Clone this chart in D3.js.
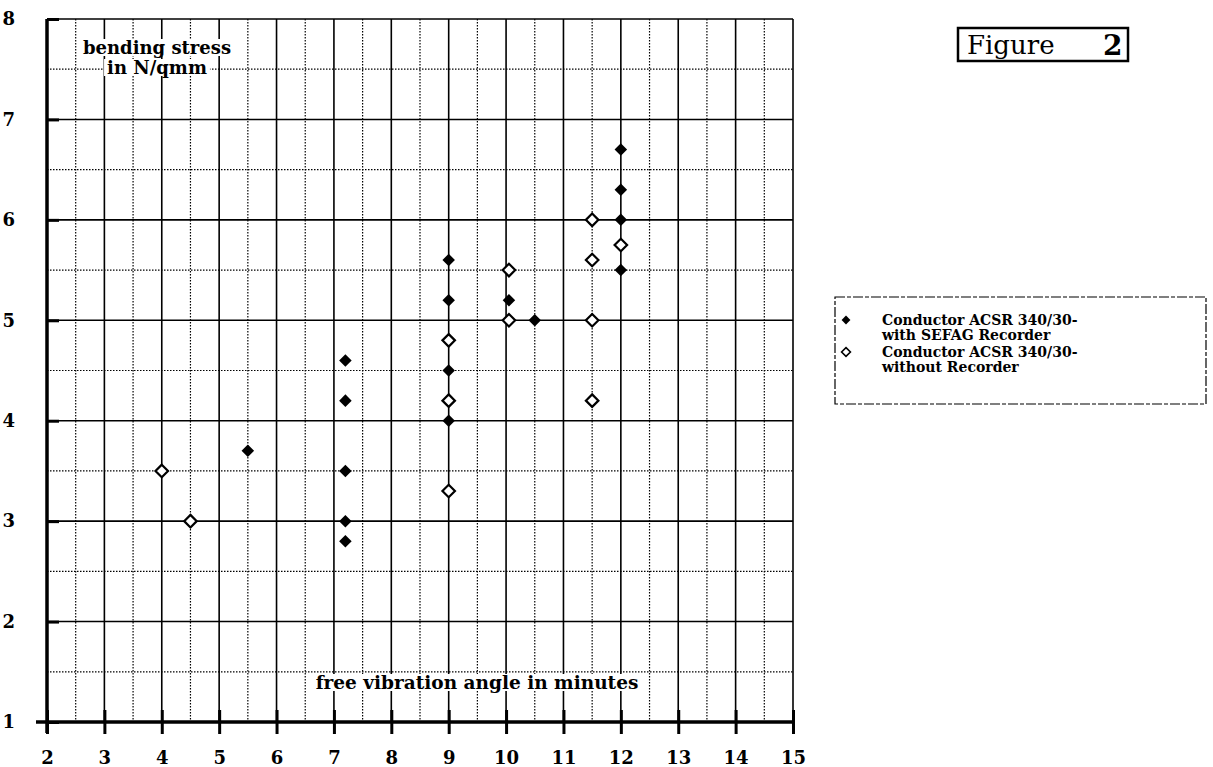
<!DOCTYPE html>
<html>
<head>
<meta charset="utf-8">
<script src="https://cdn.jsdelivr.net/npm/d3@7"></script>
<style>
  body { margin: 0; background: #fff; }
  text { font-family: "DejaVu Serif", serif; font-weight: bold; fill: #000; }
</style>
</head>
<body>
<svg id="canvas" width="1213" height="767"></svg>
<script>
"use strict";

// === Data ===
let xTicks = [2, 3, 4, 5, 6, 7, 8, 9, 10, 11, 12, 13, 14, 15];
let yTicks = [1, 2, 3, 4, 5, 6, 7, 8];

// with SEFAG recorder (filled diamonds)
let withRecX = [5.5, 7.2, 7.2, 7.2, 7.2, 7.2, 9, 9, 9, 9, 10.05, 10.5, 12, 12, 12, 12];
let withRecY = [3.7, 4.6, 4.2, 3.5, 3.0, 2.8, 5.6, 5.2, 4.5, 4.0, 5.2, 5.0, 6.7, 6.3, 6.0, 5.5];

// without recorder (open diamonds)
let noRecX = [4, 4.5, 9, 9, 9, 10.05, 10.05, 11.5, 11.5, 11.5, 11.5, 12];
let noRecY = [3.5, 3.0, 4.8, 4.2, 3.3, 5.5, 5.0, 6.0, 5.6, 5.0, 4.2, 5.75];

let legendLabels = [
  ["Conductor ACSR 340/30-", "with SEFAG Recorder"],
  ["Conductor ACSR 340/30-", "without Recorder"]
];

// === Scales ===
let x = d3.scaleLinear().domain([2, 15]).range([47, 793]);
let y = d3.scaleLinear().domain([1, 8]).range([722, 19]);

let svg = d3.select("#canvas");

// === Grid ===
let halfX = d3.range(2.5, 15, 1);
let halfY = d3.range(1.5, 8, 1);
let grid = svg.append("g");

grid.selectAll(".hx").data(halfX).enter().append("line")
  .attr("x1", d => x(d)).attr("x2", d => x(d))
  .attr("y1", y(8)).attr("y2", y(1))
  .attr("stroke", "#000").attr("stroke-width", 1.2)
  .attr("stroke-dasharray", "1.5,1.5");

grid.selectAll(".hy").data(halfY).enter().append("line")
  .attr("x1", x(2)).attr("x2", x(15))
  .attr("y1", d => y(d)).attr("y2", d => y(d))
  .attr("stroke", "#000").attr("stroke-width", 1.2)
  .attr("stroke-dasharray", "1.5,1.5");

grid.selectAll(".vx").data(xTicks.slice(1)).enter().append("line")
  .attr("x1", d => x(d)).attr("x2", d => x(d))
  .attr("y1", y(8)).attr("y2", y(1))
  .attr("stroke", "#000").attr("stroke-width", 1.6);

grid.selectAll(".vy").data(yTicks.slice(1)).enter().append("line")
  .attr("x1", x(2)).attr("x2", x(15))
  .attr("y1", d => y(d)).attr("y2", d => y(d))
  .attr("stroke", "#000").attr("stroke-width", 1.6);

// === Axis titles (white backed) ===
function boxedText(lines, cx, cy, lineH, size) {
  let g = svg.append("g");
  let texts = lines.map((t, i) => g.append("text")
    .attr("x", cx).attr("y", cy + i * lineH)
    .attr("text-anchor", "middle")
    .attr("dominant-baseline", "middle")
    .attr("font-size", size)
    .text(t));
  texts.forEach(t => {
    let b = t.node().getBBox();
    g.insert("rect", "text")
      .attr("x", b.x - 3).attr("y", b.y + 2)
      .attr("width", b.width + 6).attr("height", b.height - 4)
      .attr("fill", "#fff");
  });
}
boxedText(["bending stress", "in N/qmm"], 157, 49, 20, 18);
boxedText(["free vibration angle in minutes"], 477, 684, 20, 18.5);

// === Axes ===
let xAxis = svg.append("g")
  .attr("transform", `translate(0,${y(1)})`)
  .call(d3.axisBottom(x).tickValues(xTicks).tickFormat(d3.format("d"))
    .tickSizeInner(12).tickSizeOuter(0).tickPadding(17));
xAxis.select(".domain").remove();
xAxis.selectAll(".tick line").attr("y1", -12).attr("stroke-width", 3);
xAxis.selectAll(".tick text").attr("font-size", 18).attr("font-family", "DejaVu Serif").attr("font-weight", "bold");
xAxis.append("line").attr("x1", 36).attr("x2", x(15)).attr("stroke", "#000").attr("stroke-width", 3.5);

let yAxis = svg.append("g")
  .attr("transform", `translate(${x(2)},0)`)
  .call(d3.axisLeft(y).tickValues(yTicks).tickFormat(d3.format("d"))
    .tickSizeInner(11).tickSizeOuter(0).tickPadding(21));
yAxis.select(".domain").remove();
yAxis.selectAll(".tick line").attr("x2", 12).attr("stroke-width", 3);
yAxis.selectAll(".tick text").attr("font-size", 18).attr("font-family", "DejaVu Serif").attr("font-weight", "bold");
yAxis.append("line").attr("y1", y(8)).attr("y2", y(1) + 11).attr("stroke", "#000").attr("stroke-width", 3.5);

// === Points ===
let diamond = d3.symbol().type(d3.symbolDiamond2).size(100);

svg.append("g").selectAll("path")
  .data(noRecX.map((v, i) => [v, noRecY[i]]))
  .enter().append("path")
  .attr("d", diamond)
  .attr("transform", d => `translate(${x(d[0])},${y(d[1])})`)
  .attr("fill", "#fff").attr("stroke", "#000").attr("stroke-width", 2.2);

svg.append("g").selectAll("path")
  .data(withRecX.map((v, i) => [v, withRecY[i]]))
  .enter().append("path")
  .attr("d", diamond)
  .attr("transform", d => `translate(${x(d[0])},${y(d[1])})`)
  .attr("fill", "#000");

// === Legend ===
let legend = svg.append("g");
legend.append("rect")
  .attr("x", 835).attr("y", 297).attr("width", 371).attr("height", 107)
  .attr("fill", "#fff").attr("stroke", "#000").attr("stroke-width", 1.2)
  .attr("stroke-dasharray", "10,2,4,2");
legendLabels.forEach((lines, i) => {
  let cy = 321 + i * 32;
  legend.append("path")
    .attr("d", d3.symbol().type(d3.symbolDiamond2).size(50))
    .attr("transform", `translate(846,${cy - 1})`)
    .attr("fill", i === 0 ? "#000" : "#fff")
    .attr("stroke", "#000").attr("stroke-width", i === 0 ? 0 : 1.6);
  lines.forEach((t, j) => {
    legend.append("text")
      .attr("x", 882).attr("y", cy + j * 15)
      .attr("dominant-baseline", "middle")
      .attr("font-size", 14)
      .text(t);
  });
});

// === Figure label ===
svg.append("rect")
  .attr("x", 958).attr("y", 28).attr("width", 170).attr("height", 33)
  .attr("fill", "none").attr("stroke", "#000").attr("stroke-width", 2.5);
svg.append("text")
  .attr("x", 967).attr("y", 54)
  .style("font-family", "DejaVu Serif")
  .style("font-weight", "normal")
  .style("font-size", "26px")
  .text("Figure");
svg.append("text")
  .attr("x", 1103).attr("y", 55)
  .style("font-family", "DejaVu Serif")
  .style("font-size", "28px")
  .text("2");
</script>
</body>
</html>
